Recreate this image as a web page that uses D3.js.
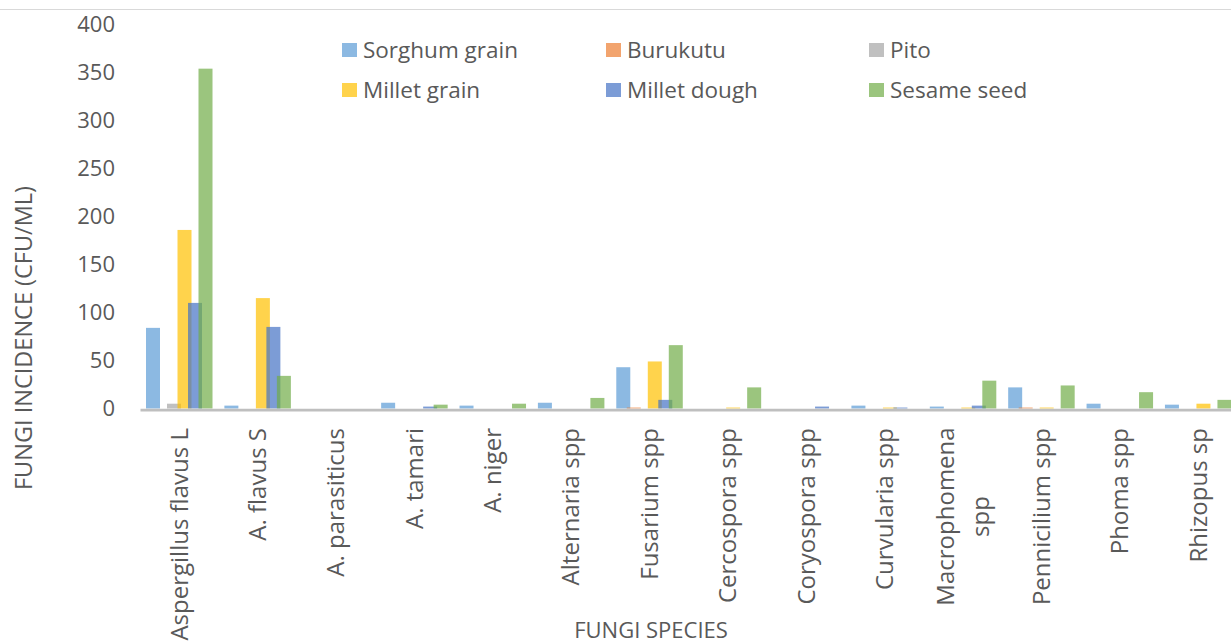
<!DOCTYPE html>
<html>
<head>
<meta charset="utf-8">
<script src="https://cdn.jsdelivr.net/npm/d3@7"></script>
<style>
  html, body { margin: 0; padding: 0; background: #fff; }
  svg { display: block; font-family: "Open Sans", sans-serif; }
</style>
</head>
<body>
<svg id="chart" width="1231" height="644"></svg>
<script>
const categories = ["Aspergillus flavus L", "A. flavus S", "A. parasiticus", "A. tamari", "A. niger",
  "Alternaria spp", "Fusarium spp", "Cercospora spp", "Coryospora spp", "Curvularia spp",
  "Macrophomena\nspp", "Pennicilium spp", "Phoma spp", "Rhizopus sp"];
const seriesNames = ["Sorghum grain", "Burukutu", "Pito", "Millet grain", "Millet dough", "Sesame seed"];
const sorghumGrain = [84, 3, 0, 6, 3, 6, 43, 0, 0, 3, 2, 22, 5, 4];
const burukutu     = [0, 0, 0, 0, 0, 0, 1, 0, 0, 0, 0, 1, 0, 0];
const pito         = [5, 0, 0, 0, 0, 0, 0, 0, 0, 0, 0, 0, 0, 0];
const milletGrain  = [186, 115, 0, 0, 0, 0, 49, 1, 0, 1, 1, 1, 0, 5];
const milletDough  = [110, 85, 0, 2, 0, 0, 9, 0, 2, 1, 3, 0, 0, 0];
const sesameSeed   = [354, 34, 0, 4, 5, 11, 66, 22, 0, 0, 29, 24, 17, 9];
const seriesValues = [sorghumGrain, burukutu, pito, milletGrain, milletDough, sesameSeed];
const yTicks = [0, 50, 100, 150, 200, 250, 300, 350, 400];
const colors = ["#5B9BD5", "#ED7D31", "#A5A5A5", "#FFC000", "#4472C4", "#70AD47"];

const svg = d3.select("#chart");
const textColor = "#595959";
const fontSize = 22;
const xLabelSize = 24;

// top border line
svg.append("line").attr("x1", 0).attr("x2", 1231).attr("y1", 9.5).attr("y2", 9.5)
  .attr("stroke", "#D9D9D9").attr("stroke-width", 1);

const x0 = 140, step = 78.38;
const x = d3.scaleBand().domain(categories).range([x0, x0 + step * categories.length]).padding(0);
const xs = d3.scalePoint().domain(seriesNames).range([6, 58.5]);
const barW = 14;
const y = d3.scaleLinear().domain([0, 400]).range([408.5, 24.5]);

// bars
seriesNames.forEach((s, si) => {
  svg.append("g").selectAll("rect")
    .data(seriesValues[si].map((v, i) => ({ cat: categories[i], v })))
    .join("rect")
    .attr("x", d => x(d.cat) + xs(s))
    .attr("y", d => y(d.v))
    .attr("width", barW)
    .attr("height", d => y(0) - y(d.v))
    .attr("fill", colors[si])
    .attr("fill-opacity", 0.7);
});

// x axis
const xAxis = svg.append("g").attr("transform", "translate(0,409.7)")
  .call(d3.axisBottom(x).tickSize(0).tickFormat(""));
xAxis.select(".domain").attr("stroke", "#BFBFBF").attr("stroke-width", 2.7);

// x labels
const lineGap = 35;
categories.forEach(c => {
  const lines = c.split("\n");
  const cx = x(c) + x.bandwidth() / 2;
  const g = svg.append("g");
  if (lines.length === 1) {
    g.append("text")
      .attr("transform", `translate(${cx},428) rotate(-90)`)
      .attr("text-anchor", "end").attr("dy", "0.35em")
      .attr("font-size", xLabelSize).attr("fill", textColor).text(c);
  } else {
    const centerY = 516.5;
    lines.forEach((ln, li) => {
      const lx = cx + (li - (lines.length - 1) / 2) * lineGap;
      g.append("text")
        .attr("transform", `translate(${lx},${centerY}) rotate(-90)`)
        .attr("text-anchor", "middle").attr("dy", "0.35em")
        .attr("font-size", xLabelSize).attr("fill", textColor).text(ln);
    });
  }
});

// y axis labels
const yAxis = svg.append("g").attr("transform", "translate(115,0)")
  .call(d3.axisLeft(y).tickValues(yTicks).tickSize(0).tickPadding(0));
yAxis.select(".domain").remove();
yAxis.selectAll("text").attr("font-size", fontSize).attr("fill", textColor)
  .attr("font-family", "Open Sans, sans-serif").attr("dy", "0.34em");

// axis titles
svg.append("text").attr("transform", "translate(24,338) rotate(-90)")
  .attr("text-anchor", "middle").attr("dy", "0.35em")
  .attr("font-size", 23.5).attr("fill", textColor).text("FUNGI INCIDENCE (CFU/ML)");
svg.append("text").attr("x", 651).attr("y", 638)
  .attr("text-anchor", "middle").attr("font-size", 22).attr("fill", textColor).text("FUNGI SPECIES");

// legend
const legCols = [342, 606, 869], legRows = [50, 90];
seriesNames.forEach((s, i) => {
  const lx = legCols[i % 3], ly = legRows[Math.floor(i / 3)];
  svg.append("rect").attr("x", lx).attr("y", ly - 7).attr("width", 15).attr("height", 14)
    .attr("fill", colors[i]).attr("fill-opacity", 0.7);
  svg.append("text").attr("x", lx + 21).attr("y", ly).attr("dy", "0.35em")
    .attr("font-size", 22.5).attr("fill", textColor).text(s);
});
</script>
</body>
</html>
